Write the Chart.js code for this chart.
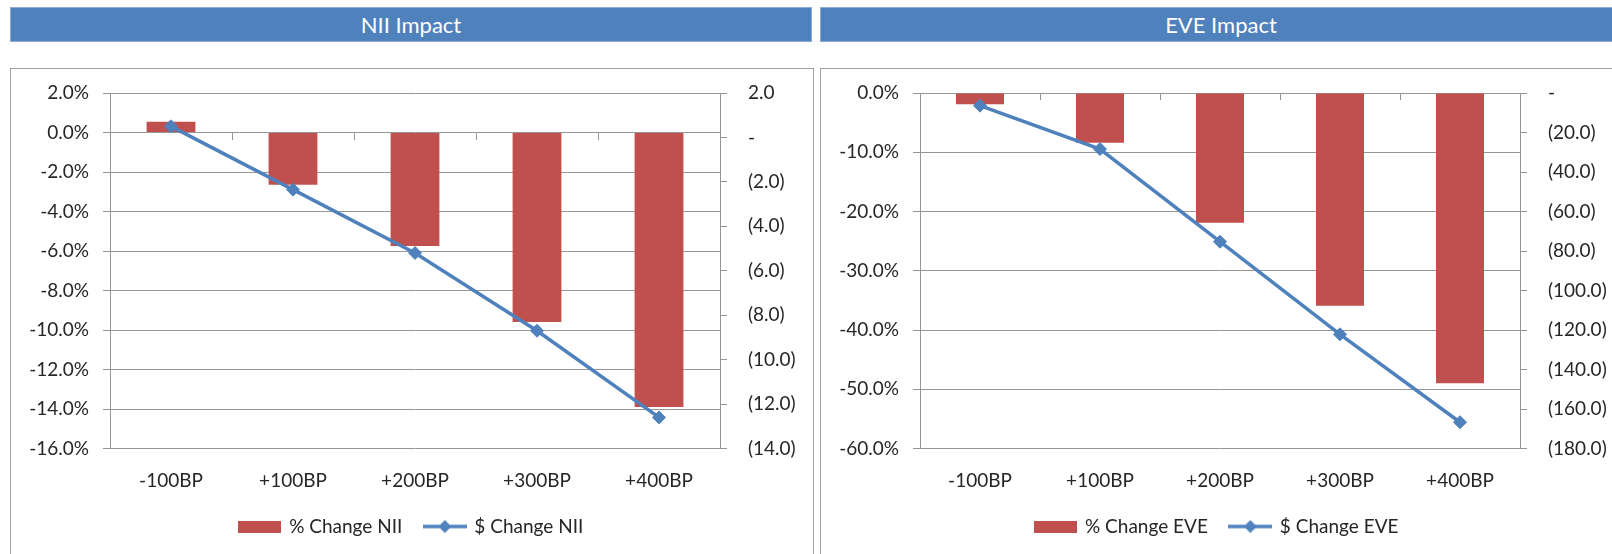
<!DOCTYPE html>
<html>
<head>
<meta charset="utf-8">
<script src="https://cdn.jsdelivr.net/npm/chart.js@4/dist/chart.umd.min.js"></script>
<style>
  html, body { margin: 0; padding: 0; background: #fff; width: 1612px; height: 554px; overflow: hidden; }
  .header {
    position: absolute; top: 7px; height: 33px;
    background: #4F81BD; border: 1px solid #8eaad6;
    color: #fff; font: 22px Lato, sans-serif;
    display: flex; align-items: center; justify-content: center;
  }
  .box {
    position: absolute; top: 68px; height: 500px;
    border: 1px solid #a0a0a0; box-sizing: border-box;
  }
  canvas { position: absolute; }
</style>
</head>
<body>
<div class="header" style="left:10px; width:800px;">NII Impact</div>
<div class="header" style="left:820px; width:800px;">EVE Impact</div>
<div class="box" style="left:10px; width:804px;"></div>
<div class="box" style="left:820px; width:800px;"></div>
<canvas id="niiChart" width="801" height="477" style="left:11px; top:69px;"></canvas>
<canvas id="eveChart" width="790" height="477" style="left:822px; top:69px;"></canvas>

<script>
// scenario labels
const scenarios = ['-100BP', '+100BP', '+200BP', '+300BP', '+400BP'];

// NII impact (percent change, $ change)
const niiPctChange = [0.55, -2.65, -5.75, -9.6, -13.9];
const niiDollarChange = [0.5, -2.35, -5.2, -8.7, -12.6];

// EVE impact (percent change, $ change)
const evePctChange = [-1.9, -8.4, -21.9, -35.9, -49.0];
const eveDollarChange = [-6.4, -28.4, -75.3, -122.2, -166.7];

// axis ranges [min, max, step]
const niiPctAxis = [-16, 2, 2];
const niiDollarAxis = [-14, 2, 2];
const evePctAxis = [-60, 0, 10];
const eveDollarAxis = [-180, 0, 20];

const BAR_COLOR = '#C0504D';
const LINE_COLOR = '#4F81BD';
const GRID_COLOR = '#969696';
const TEXT_COLOR = '#262626';

Chart.defaults.font.family = 'Lato, sans-serif';
Chart.defaults.font.size = 19;
Chart.defaults.color = TEXT_COLOR;

function barIcon() {
    const c = document.createElement('canvas');
    c.width = 43; c.height = 12;
    const g = c.getContext('2d');
    g.fillStyle = BAR_COLOR;
    g.fillRect(0, 0, 43, 12);
    return c;
}

function lineIcon() {
    const c = document.createElement('canvas');
    c.width = 44; c.height = 16;
    const g = c.getContext('2d');
    g.strokeStyle = LINE_COLOR;
    g.lineWidth = 3.5;
    g.beginPath(); g.moveTo(0, 8); g.lineTo(44, 8); g.stroke();
    g.fillStyle = LINE_COLOR;
    g.beginPath();
    g.moveTo(22, 1.5); g.lineTo(28.5, 8); g.lineTo(22, 14.5); g.lineTo(15.5, 8);
    g.closePath(); g.fill();
    return c;
}

function dollarLabel(v) {
    if (v === 0) return '-';
    if (v < 0) return '(' + Math.abs(v).toFixed(1) + ')';
    return v.toFixed(1);
}

// small tick marks on the horizontal axis (at zero) between categories
const categoryTicks = {
    id: 'categoryTicks',
    beforeDatasetsDraw(chart) {
        const x = chart.scales.x;
        const y0 = chart.scales.y.getPixelForValue(0);
        const n = chart.data.labels.length;
        const ctx = chart.ctx;
        ctx.save();
        ctx.strokeStyle = GRID_COLOR;
        ctx.lineWidth = 1;
        for (let i = 0; i <= n; i++) {
            const px = Math.round(x.left + i * (x.right - x.left) / n) + 0.5;
            ctx.beginPath();
            ctx.moveTo(px, Math.round(y0));
            ctx.lineTo(px, Math.round(y0) + 7);
            ctx.stroke();
        }
        ctx.restore();
    }
};

function fitY(width) {
    return function(s) {
        s.width = width;
        s.paddingTop = 0;
        s.paddingBottom = 0;
    };
}

function makeChart(id, pctData, dollarData, pctAxis, dollarAxis, pctName, dollarName, leftWidth) {
    const ctx = document.getElementById(id).getContext('2d');
    return new Chart(ctx, {
        type: 'bar',
        data: {
            labels: scenarios,
            datasets: [{
                type: 'bar',
                label: pctName,
                data: pctData,
                backgroundColor: BAR_COLOR,
                barPercentage: 0.4,
                categoryPercentage: 1,
                yAxisID: 'y',
                order: 1
            }, {
                type: 'line',
                label: dollarName,
                data: dollarData,
                borderColor: LINE_COLOR,
                backgroundColor: LINE_COLOR,
                borderWidth: 3.5,
                pointStyle: 'rectRot',
                pointRadius: 6.5,
                pointBorderWidth: 1,
                tension: 0,
                yAxisID: 'y1',
                order: 0
            }]
        },
        options: {
            responsive: false,
            animation: false,
            layout: { padding: { top: 24, left: 0, right: 0, bottom: 0 } },
            plugins: {
                tooltip: { enabled: false },
                legend: {
                    position: 'bottom',
                    labels: {
                        usePointStyle: true,
                        pointStyleWidth: 40,
                        boxHeight: 19,
                        padding: 22.5,
                        generateLabels: function() {
                            return [
                                { text: pctName, pointStyle: barIcon(), fillStyle: BAR_COLOR, strokeStyle: BAR_COLOR, lineWidth: 0, hidden: false, datasetIndex: 0, fontColor: TEXT_COLOR },
                                { text: dollarName, pointStyle: lineIcon(), fillStyle: LINE_COLOR, strokeStyle: LINE_COLOR, lineWidth: 0, hidden: false, datasetIndex: 1, fontColor: TEXT_COLOR }
                            ];
                        }
                    }
                }
            },
            scales: {
                x: {
                    grid: { display: false, drawTicks: false },
                    border: { display: false },
                    ticks: { padding: 20.6, maxRotation: 0 },
                    afterFit: function(s) {
                        s.height = 46;
                        s.paddingLeft = 0;
                        s.paddingRight = 0;
                    }
                },
                y: {
                    position: 'left',
                    min: pctAxis[0],
                    max: pctAxis[1],
                    ticks: {
                        stepSize: pctAxis[2],
                        autoSkip: false,
                        padding: 14,
                        callback: function(v) { return v.toFixed(1) + '%'; }
                    },
                    grid: { color: GRID_COLOR, tickLength: 7 },
                    border: { display: true, color: GRID_COLOR },
                    afterFit: fitY(leftWidth)
                },
                y1: {
                    position: 'right',
                    min: dollarAxis[0],
                    max: dollarAxis[1],
                    ticks: {
                        stepSize: dollarAxis[2],
                        autoSkip: false,
                        padding: 21,
                        callback: dollarLabel
                    },
                    grid: { drawOnChartArea: false, color: GRID_COLOR, tickLength: 7 },
                    border: { display: true, color: GRID_COLOR },
                    afterFit: fitY(92)
                }
            }
        },
        plugins: [categoryTicks]
    });
}

makeChart('niiChart', niiPctChange, niiDollarChange, niiPctAxis, niiDollarAxis, '% Change NII', '$ Change NII', 99);
makeChart('eveChart', evePctChange, eveDollarChange, evePctAxis, eveDollarAxis, '% Change EVE', '$ Change EVE', 98);
</script>
</body>
</html>
